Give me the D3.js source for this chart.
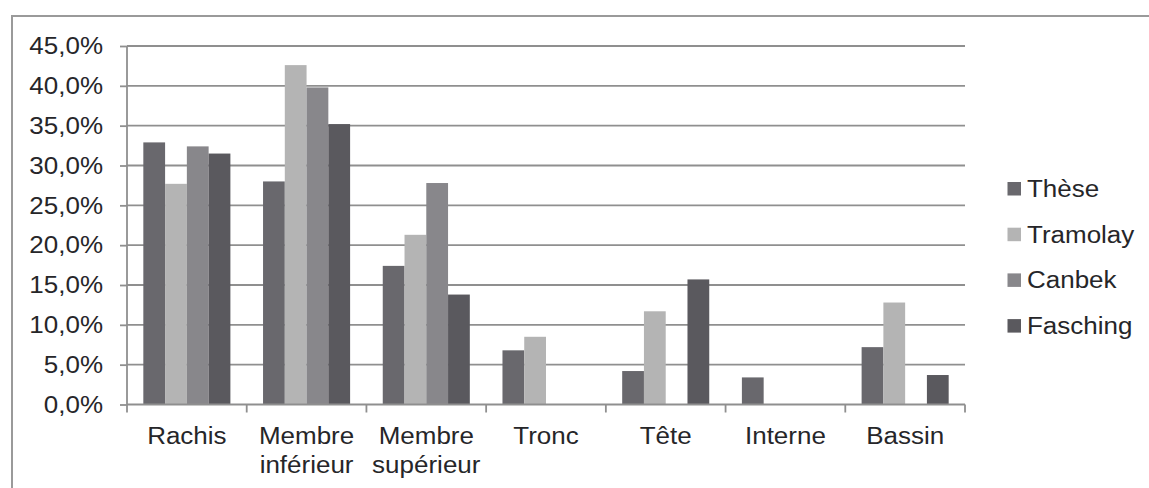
<!DOCTYPE html>
<html><head><meta charset="utf-8">
<script src="https://cdn.jsdelivr.net/npm/d3@7"></script>
<style>
html,body{margin:0;padding:0;background:#fff;}
svg{display:block;}
text{font-family:"Liberation Sans",Arial,sans-serif;fill:#262629;}
</style></head>
<body>
<svg id="c" width="1149" height="488"></svg>
<script>
const categories = [["Rachis"],["Membre","inférieur"],["Membre","supérieur"],["Tronc"],["Tête"],["Interne"],["Bassin"]];
const seriesNames = ["Thèse","Tramolay","Canbek","Fasching"];
const these    = [32.9, 28.0, 17.4, 6.8, 4.2, 3.4, 7.2];
const tramolay = [27.7, 42.6, 21.3, 8.5, 11.7, 0, 12.8];
const canbek   = [32.4, 39.8, 27.8, 0, 0, 0, 0];
const fasching = [31.5, 35.2, 13.8, 0, 15.7, 0, 3.7];
const yTicks = [0,5,10,15,20,25,30,35,40,45];
const yTickLabels = ["0,0%","5,0%","10,0%","15,0%","20,0%","25,0%","30,0%","35,0%","40,0%","45,0%"];
const colors = ["#69686d","#b4b4b4","#88878b","#5a595e"];

const seriesValues = [these, tramolay, canbek, fasching];
const catKeys = categories.map(c => c.join(" "));
const FS = 23, SX = 1.13;

const svg = d3.select("#c");
// outer border
svg.append("rect").attr("x",12).attr("y",16).attr("width",1200).attr("height",600)
  .attr("fill","none").attr("stroke","#9a9a9a").attr("stroke-width",2);

const x = d3.scaleBand().domain(catKeys).range([127,965]).paddingInner(0).paddingOuter(0);
const inner = d3.scaleBand().domain(seriesNames).range([0,x.bandwidth()]).paddingInner(0).paddingOuter(0.75/ (4+1.5) * 4 / 4 * (4/4));
// Excel gap width 150% => outer padding per side = 0.75 bar width
inner.paddingOuter(0.75);
const y = d3.scaleLinear().domain([0,45]).range([404.5,46]);

// gridlines
svg.append("g").selectAll("line").data(yTicks.filter(d=>d>0)).join("line")
  .attr("x1",127).attr("x2",965).attr("y1",d=>y(d)).attr("y2",d=>y(d))
  .attr("stroke","#8f8f8f").attr("stroke-width",1.8);

// bars
const gBars = svg.append("g");
seriesNames.forEach((s,si)=>{
  gBars.append("g").selectAll("rect").data(seriesValues[si]).join("rect")
    .attr("x",(d,i)=>x(catKeys[i])+inner(s))
    .attr("width",inner.bandwidth())
    .attr("y",d=>y(d))
    .attr("height",d=>y(0)-y(d))
    .attr("fill",colors[si]);
});

// y axis
const yAxis = d3.axisLeft(y).tickValues(yTicks).tickSize(7).tickFormat("");
const gy = svg.append("g").attr("transform","translate(127,0)").call(yAxis);
gy.select(".domain").attr("stroke","#8f8f8f").attr("stroke-width",1.8).attr("d","M0,"+y(45)+"V"+y(0));
gy.selectAll(".tick line").attr("stroke","#8f8f8f").attr("stroke-width",1.8);

svg.append("g").selectAll("text").data(yTicks).join("text")
  .attr("transform",d=>`translate(103,${y(d)+FS*0.36}) scale(${SX},1)`)
  .attr("text-anchor","end").attr("font-size",FS).text((d,i)=>yTickLabels[i]);

// x axis
const xAxis = d3.axisBottom(x).tickSize(0).tickFormat("");
const gx = svg.append("g").attr("transform",`translate(0,${y(0)})`).call(xAxis);
gx.select(".domain").attr("stroke","#8f8f8f").attr("stroke-width",1.8).attr("d","M127,0H965");
const bounds = catKeys.map(k=>x(k)).concat([x.range()[1]]);
gx.append("g").selectAll("line").data(bounds).join("line")
  .attr("x1",d=>d).attr("x2",d=>d).attr("y1",0).attr("y2",8)
  .attr("stroke","#8f8f8f").attr("stroke-width",1.8);

const gxl = svg.append("g");
categories.forEach((c,i)=>{
  const cx = x(catKeys[i]) + x.bandwidth()/2;
  c.forEach((line,li)=>{
    gxl.append("text").attr("transform",`translate(${cx},${444+li*29}) scale(${SX},1)`)
      .attr("text-anchor","middle").attr("font-size",FS).text(line);
  });
});

// legend
const lg = svg.append("g");
seriesNames.forEach((s,i)=>{
  const by = 197 + i*45.7;
  lg.append("rect").attr("x",1007.5).attr("y",by-15).attr("width",13.5).attr("height",13.5).attr("fill",colors[i]);
  lg.append("text").attr("transform",`translate(1027,${by}) scale(${SX},1)`)
    .attr("font-size",FS).text(s);
});
</script>
</body></html>
